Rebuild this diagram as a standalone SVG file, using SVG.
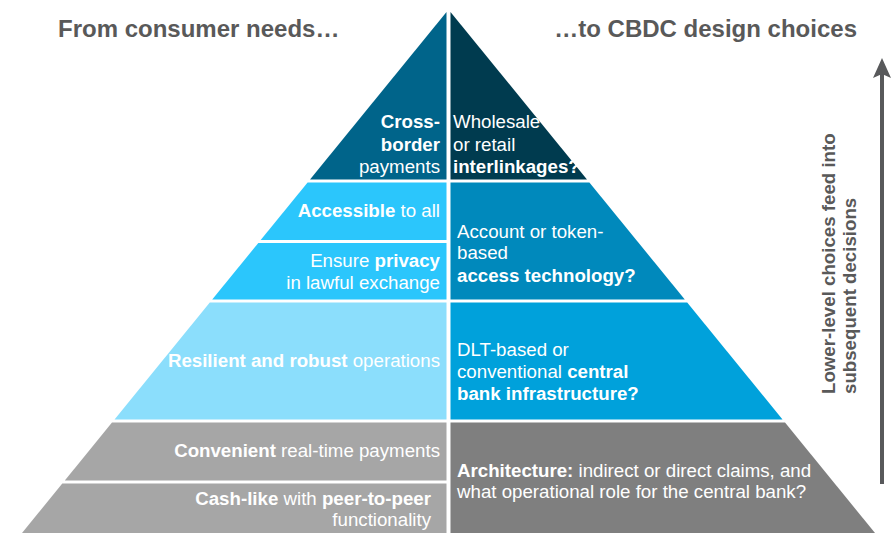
<svg xmlns="http://www.w3.org/2000/svg" width="896" height="535" viewBox="0 0 896 535">
<defs>
<style>
text{font-family:"Liberation Sans",Arial,sans-serif;}
.t{fill:#ffffff;font-size:18.7px;}
.b{font-weight:bold;}
.hd{fill:#595959;font-size:24px;font-weight:bold;}
.vt{fill:#595959;font-size:18.7px;font-weight:bold;}
.l{text-anchor:end;}
</style>
<marker id="ah" viewBox="0 0 20 20" refX="4" refY="10" markerWidth="20" markerHeight="20" markerUnits="userSpaceOnUse" orient="auto">
<path d="M0,1 L20,10 L0,19 L4,10 Z" fill="#58595B"/>
</marker>
</defs>
<rect width="896" height="535" fill="#ffffff"/>

<g id="header-left"><text class="hd" x="58" y="37">From consumer needs…</text></g>
<g id="header-right"><text class="hd" x="857" y="37" text-anchor="end">…to CBDC design choices</text></g>

<g id="tier1-left">
<polygon points="446.5,12 446.5,179.5 310,179.5" fill="#00648A"/>
<text class="t l"><tspan class="b" x="440" y="128">Cross-</tspan><tspan class="b" x="440" y="150.5">border</tspan><tspan x="440" y="172.5">payments</tspan></text>
</g>
<g id="tier1-right">
<polygon points="450.5,12 587,179.5 450.5,179.5" fill="#003B4F"/>
<text class="t"><tspan x="453" y="128">Wholesale</tspan><tspan x="453" y="150.5">or retail</tspan><tspan class="b" x="453" y="173">interlinkages?</tspan></text>
</g>

<g id="tier2-left-a">
<polygon points="307.6,182.5 446.5,182.5 446.5,240 260.7,240" fill="#2BC6FC"/>
<text class="t l" x="440" y="217"><tspan class="b">Accessible</tspan> to all</text>
</g>
<g id="tier2-left-b">
<polygon points="258.3,243 446.5,243 446.5,299.5 212.2,299.5" fill="#2BC6FC"/>
<text class="t l"><tspan x="440" y="267">Ensure <tspan class="b">privacy</tspan></tspan><tspan x="440" y="288.5">in lawful exchange</tspan></text>
</g>
<g id="tier2-right">
<polygon points="450.5,182.5 589.4,182.5 684.8,299.5 450.5,299.5" fill="#0089BC"/>
<text class="t"><tspan x="457" y="237.5">Account or token-</tspan><tspan x="457" y="259">based</tspan><tspan class="b" x="457" y="281.5">access technology?</tspan></text>
</g>

<g id="tier3-left">
<polygon points="209.8,302.5 446.5,302.5 446.5,419.5 114.5,419.5" fill="#8BDEFC"/>
<text class="t l" x="440" y="366.5"><tspan class="b">Resilient and robust</tspan> operations</text>
</g>
<g id="tier3-right">
<polygon points="450.5,302.5 687.2,302.5 782.5,419.5 450.5,419.5" fill="#00A1DB"/>
<text class="t"><tspan x="457" y="355.5">DLT-based or</tspan><tspan x="457" y="378">conventional <tspan class="b">central</tspan></tspan><tspan class="b" x="457" y="400">bank infrastructure?</tspan></text>
</g>

<g id="tier4-left-a">
<polygon points="112,422.5 446.5,422.5 446.5,480.5 64.8,480.5" fill="#A6A6A6"/>
<text class="t l" x="440" y="457"><tspan class="b">Convenient</tspan> real-time payments</text>
</g>
<g id="tier4-left-b">
<polygon points="62.3,483.5 446.5,483.5 446.5,533 22,533" fill="#A6A6A6"/>
<text class="t l"><tspan x="431" y="505"><tspan class="b">Cash-like</tspan> with <tspan class="b">peer-to-peer</tspan></tspan><tspan x="431" y="526">functionality</tspan></text>
</g>
<g id="tier4-right">
<polygon points="450.5,422.5 785,422.5 875,533 450.5,533" fill="#7F7F7F"/>
<text class="t"><tspan x="457" y="476.5"><tspan class="b">Architecture:</tspan> indirect or direct claims, and</tspan><tspan x="457" y="497.5">what operational role for the central bank?</tspan></text>
</g>

<g id="side-label">
<text class="vt" transform="translate(834.5,394) rotate(-90)"><tspan x="0" y="0">Lower-level choices feed into</tspan><tspan x="0" y="21">subsequent decisions</tspan></text>
</g>

<g id="connectors">
<line x1="882" y1="484" x2="882" y2="74" stroke="#58595B" stroke-width="4" marker-end="url(#ah)"/>
</g>
</svg>
